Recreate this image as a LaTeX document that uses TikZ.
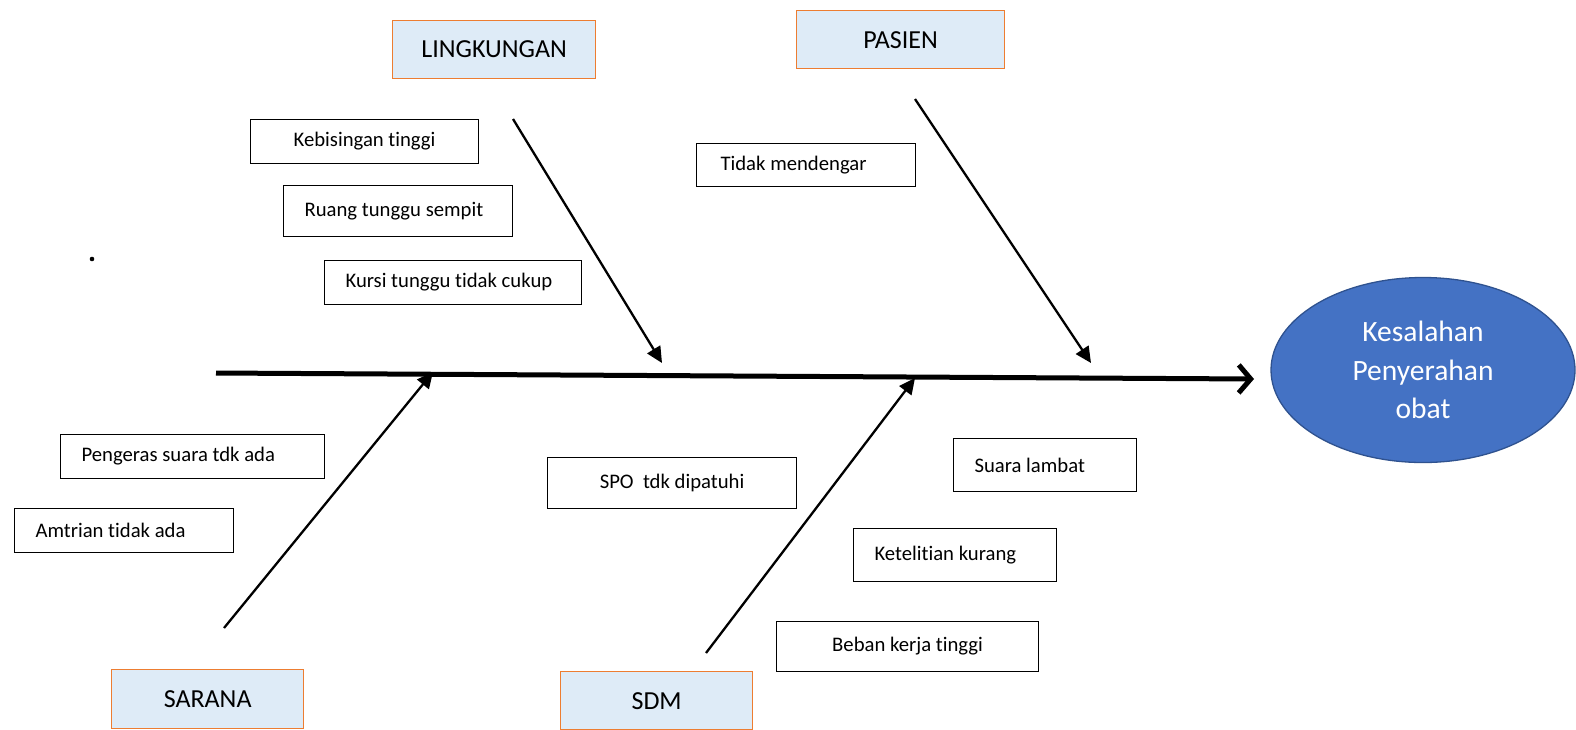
\documentclass[tikz,border=0pt]{standalone}
\usepackage{fontspec}
\setmainfont{Carlito}[Ligatures={NoCommon}]
\usetikzlibrary{shapes.geometric,arrows.meta}
\definecolor{catfill}{HTML}{DEEBF7}
\definecolor{catdraw}{HTML}{ED7D31}
\definecolor{efill}{HTML}{4472C4}
\definecolor{edraw}{HTML}{2F528F}
\tikzset{
  cat/.style={draw=catdraw, fill=catfill, line width=1.3pt, anchor=north west, inner sep=0pt,
    font=\fontsize{26}{30}\selectfont},
  lbl/.style={draw, line width=1.1pt, anchor=north west, inner sep=0pt,
    font=\fontsize{20.7}{24}\selectfont},
  lftlbl/.style={lbl, inner xsep=21pt, align=flush left},
  branch/.style={line width=2.3pt, -{Triangle[length=16pt,width=15pt]}},
  spine/.style={line width=5pt, -{Straight Barb[length=12pt,width=28pt]}}
}
\newcommand{\dn}[1]{\raisebox{-2pt}{#1}}
\begin{document}
\begin{tikzpicture}[x=1pt,y=-1pt]
\useasboundingbox (0,0) rectangle (1576,729);
% categories
\node[cat, minimum width=203pt, minimum height=58pt] (ling) at (392,20) {LINGKUNGAN};
\node[cat, minimum width=208pt, minimum height=58pt] (pas) at (796,10) {PASIEN};
\node[cat, minimum width=192pt, minimum height=59pt] (sar) at (111,669) {SARANA};
\node[cat, minimum width=192pt, minimum height=58pt] (sdm) at (560,671) {SDM};
% causes
\node[lbl, minimum width=228pt, minimum height=44pt] (keb) at (250,119) {\dn{Kebisingan tinggi}};
\node[lftlbl, text width=187pt, minimum height=51pt] (ruang) at (283,185) {\dn{Ruang tunggu sempit}};
\node[lftlbl, text width=215pt, minimum height=44pt] (kursi) at (324,260) {\dn{Kursi tunggu tidak cukup}};
\node[lftlbl, inner xsep=24pt, text width=171pt, minimum height=43pt] (tdk) at (696,143) {\dn{Tidak mendengar}};
\node[lftlbl, text width=222pt, minimum height=44pt] (peng) at (60,434) {\dn{Pengeras suara tdk ada}};
\node[lftlbl, text width=177pt, minimum height=44pt] (amt) at (14,508) {\dn{Amtrian tidak ada}};
\node[lbl, minimum width=249pt, minimum height=51pt] (spo) at (547,457) {\dn{SPO~~tdk dipatuhi}};
\node[lftlbl, text width=141pt, minimum height=53pt] (suara) at (953,438) {\dn{Suara lambat}};
\node[lftlbl, text width=161pt, minimum height=53pt] (ket) at (853,528) {\dn{Ketelitian kurang}};
\node[lbl, minimum width=262pt, minimum height=50pt] (beban) at (776,621) {\dn{Beban kerja tinggi}};
% effect
\node[ellipse, draw=edraw, fill=efill, line width=1.3pt, minimum width=304pt, minimum height=185pt,
  text=white, align=center, font=\fontsize{29.5}{38.5}\selectfont] (eff) at (1423,370)
  {\raisebox{-3pt}{Kesalahan}\\\raisebox{-3pt}{Penyerahan}\\\raisebox{-3pt}{obat}};
% spine
\coordinate (s0) at (216,373);
\coordinate (s1) at (1254,379);
\draw[spine] (s0) -- (s1);
% branches
\coordinate (b1s) at (513,119); \coordinate (b1e) at (662,363);
\coordinate (b2s) at (915,99);  \coordinate (b2e) at (1091,363);
\coordinate (b3s) at (224,628); \coordinate (b3e) at (433,372);
\coordinate (b4s) at (706,653); \coordinate (b4e) at (915,378);
\draw[branch] (b1s) -- (b1e);
\draw[branch] (b2s) -- (b2e);
\draw[branch] (b3s) -- (b3e);
\draw[branch] (b4s) -- (b4e);
% stray dot
\fill (92,259) circle (2.3pt);
\end{tikzpicture}
\end{document}
